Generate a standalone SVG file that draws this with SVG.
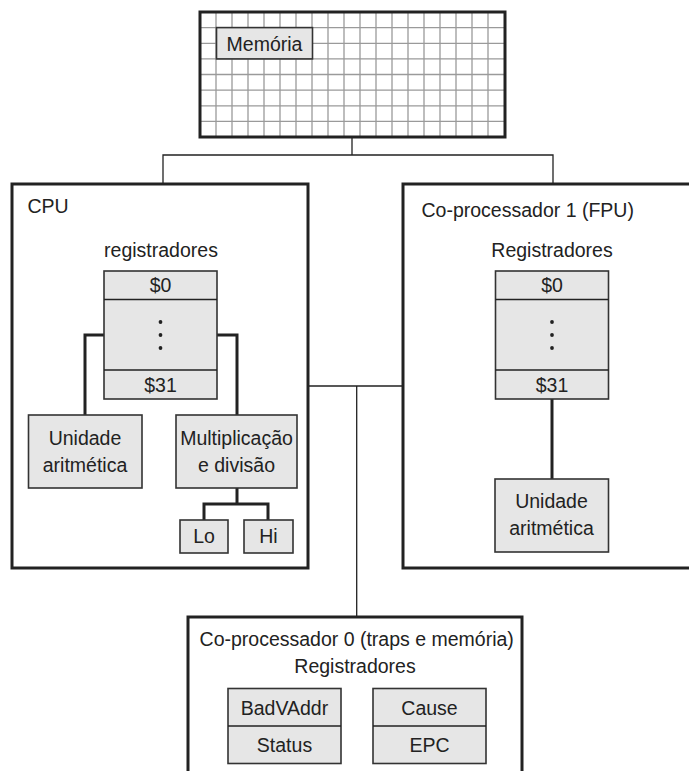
<svg xmlns="http://www.w3.org/2000/svg" width="689" height="771" viewBox="0 0 689 771">
<style>
text{font-family:"Liberation Sans",Arial,Helvetica,sans-serif;font-size:19.5px;fill:#222}
.c{text-anchor:middle}
.big{fill:#fff;stroke:#222;stroke-width:3}
.box{fill:#e6e6e6;stroke:#333;stroke-width:1.6}
.grid{stroke:#9a9a9a;stroke-width:1.3;fill:none}
.thin{fill:none;stroke:#222;stroke-width:1.3}
.thick{fill:none;stroke:#222;stroke-width:3}
</style>
<rect width="689" height="771" fill="#fff"/>
<g id="connectors">
<path class="thin" d="M352,137 V155 M163,184 V155 H553 V184"/>
<path class="thin" d="M308,386 H403 M356.7,386 V617"/>
</g>
<g id="memoria">
<rect x="200" y="12" width="305" height="125" fill="#fff"/>
<path class="grid" d="M216,12V137M232,12V137M248,12V137M264,12V137M280,12V137M296,12V137M312,12V137M328,12V137M344,12V137M360,12V137M376,12V137M392,12V137M408,12V137M424,12V137M440,12V137M456,12V137M472,12V137M488,12V137M200,27.6H505M200,43.3H505M200,58.9H505M200,74.5H505M200,90.1H505M200,105.8H505M200,121.4H505"/>
<rect x="200" y="12" width="305" height="125" fill="none" stroke="#222" stroke-width="3"/>
<rect class="box" x="216.5" y="27.6" width="96" height="31.3"/>
<text class="c" x="264.5" y="51">Memória</text>
</g>
<g id="cpu">
<rect class="big" x="12" y="184" width="296" height="384"/>
<text x="27.5" y="213">CPU</text>
<text class="c" x="161" y="257">registradores</text>
<path class="thick" d="M104,335 H85 V415 M217,335 H237 V415 M237,488 V504 M204,520 V504 H268 V520"/>
<g id="cpu-regs">
<rect class="box" x="104" y="271" width="113" height="128"/>
<path class="thin" d="M104,299.5 H217 M104,370 H217" stroke="#333"/>
<text class="c" x="160.5" y="292">$0</text>
<circle cx="160.5" cy="322" r="1.9" fill="#222"/>
<circle cx="160.5" cy="335" r="1.9" fill="#222"/>
<circle cx="160.5" cy="348" r="1.9" fill="#222"/>
<text class="c" x="160.5" y="392">$31</text>
</g>
<g id="cpu-alu">
<rect class="box" x="28.5" y="415" width="113.5" height="73"/>
<text class="c" x="85" y="445">Unidade</text>
<text class="c" x="85" y="472">aritmética</text>
</g>
<g id="cpu-muldiv">
<rect class="box" x="176" y="415" width="121" height="73"/>
<text class="c" x="236.5" y="445">Multiplicação</text>
<text class="c" x="236.5" y="472">e divisão</text>
</g>
<g id="lo">
<rect class="box" x="180" y="520" width="48" height="33"/>
<text class="c" x="204" y="543">Lo</text>
</g>
<g id="hi">
<rect class="box" x="244" y="520" width="49" height="33"/>
<text class="c" x="268.5" y="543">Hi</text>
</g>
</g>
<g id="fpu">
<rect class="big" x="403" y="184" width="300" height="384"/>
<text x="421.5" y="217">Co-processador 1 (FPU)</text>
<text class="c" x="552" y="257">Registradores</text>
<path class="thick" d="M552,399 V479"/>
<g id="fpu-regs">
<rect class="box" x="495.5" y="271" width="113" height="128"/>
<path class="thin" d="M495.5,299.5 H608.5 M495.5,370 H608.5" stroke="#333"/>
<text class="c" x="552" y="292">$0</text>
<circle cx="552" cy="322" r="1.9" fill="#222"/>
<circle cx="552" cy="335" r="1.9" fill="#222"/>
<circle cx="552" cy="348" r="1.9" fill="#222"/>
<text class="c" x="552" y="392">$31</text>
</g>
<g id="fpu-alu">
<rect class="box" x="495" y="479" width="113.5" height="73"/>
<text class="c" x="551.5" y="508">Unidade</text>
<text class="c" x="551.5" y="535">aritmética</text>
</g>
</g>
<g id="cp0">
<rect class="big" x="188" y="617" width="334" height="170"/>
<text class="c" x="356.7" y="646">Co-processador 0 (traps e memória)</text>
<text class="c" x="355" y="673">Registradores</text>
<g id="badvaddr-status">
<rect class="box" x="228" y="688.5" width="113" height="75"/>
<path class="thin" d="M228,726 H341" stroke="#333"/>
<text class="c" x="284.5" y="715">BadVAddr</text>
<text class="c" x="284.5" y="752">Status</text>
</g>
<g id="cause-epc">
<rect class="box" x="373" y="688.5" width="113" height="75"/>
<path class="thin" d="M373,726 H486" stroke="#333"/>
<text class="c" x="429.5" y="715">Cause</text>
<text class="c" x="429.5" y="752">EPC</text>
</g>
</g>
</svg>
